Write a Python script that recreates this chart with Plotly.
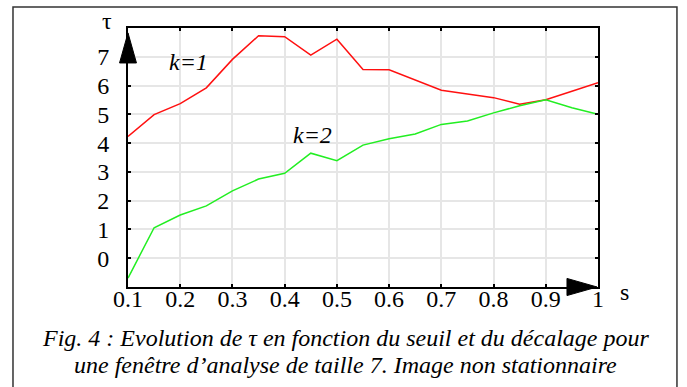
import plotly.graph_objects as go

# data
s_values = [0.10, 0.15, 0.20, 0.25, 0.30, 0.35, 0.40, 0.45, 0.50, 0.55,
            0.60, 0.65, 0.70, 0.75, 0.80, 0.85, 0.90, 0.95, 1.00]
tau_k1 = [4.23, 4.99, 5.37, 5.92, 6.91, 7.73, 7.70, 7.06, 7.61, 6.56,
          6.55, 6.20, 5.84, 5.71, 5.58, 5.35, 5.51, 5.80, 6.10]
tau_k2 = [-0.69, 1.06, 1.50, 1.82, 2.34, 2.75, 2.95, 3.65, 3.39, 3.93,
          4.15, 4.32, 4.65, 4.77, 5.05, 5.30, 5.51, 5.23, 5.00]
x_tick_vals = [0.1, 0.2, 0.3, 0.4, 0.5, 0.6, 0.7, 0.8, 0.9, 1.0]
x_tick_text = ["0.1", "0.2", "0.3", "0.4", "0.5", "0.6", "0.7", "0.8", "0.9", "1"]
y_tick_vals = [0, 1, 2, 3, 4, 5, 6, 7]
y_tick_text = ["0", "1", "2", "3", "4", "5", "6", "7"]

SERIF = "Liberation Serif"

fig = go.Figure()
fig.add_trace(go.Scatter(x=s_values, y=tau_k1, mode="lines",
                         line=dict(color="#ff1010", width=1.5), name="k=1"))
fig.add_trace(go.Scatter(x=s_values, y=tau_k2, mode="lines",
                         line=dict(color="#22ee22", width=1.5), name="k=2"))

axis_common = dict(showgrid=True, gridcolor="#e6e6e6", gridwidth=2,
                   showline=True, linecolor="black", linewidth=2,
                   mirror="allticks", ticks="inside", ticklen=3,
                   tickwidth=2, tickcolor="black", zeroline=False,
                   tickfont=dict(family=SERIF, size=24, color="black"))

fig.update_xaxes(range=[0.1, 1.0], tickvals=x_tick_vals, ticktext=x_tick_text,
                 ticklabelstandoff=-11, **axis_common)
fig.update_yaxes(range=[-1, 8], tickvals=y_tick_vals, ticktext=y_tick_text,
                 ticklabelstandoff=12, **axis_common)

shapes = [
    # outer frame
    dict(type="rect", xref="paper", yref="paper", x0=-0.2447, x1=1.168,
         y0=-0.40, y1=1.081, line=dict(color="#333333", width=1.5),
         layer="below"),
    # y axis arrow
    dict(type="path", xref="paper", yref="paper",
         path="M -0.018 0.865 L 0.018 0.865 L 0 0.981 Z",
         fillcolor="black", line=dict(color="black", width=1), layer="above"),
    # x axis arrow
    dict(type="path", xref="paper", yref="paper",
         path="M 0.934 -0.033 L 0.934 0.033 L 0.998 0 Z",
         fillcolor="black", line=dict(color="black", width=1), layer="above"),
]

def note(x, y, text, size, xref="paper", yref="paper"):
    return dict(x=x, y=y, xref=xref, yref=yref, text=text, showarrow=False,
                xanchor="center", yanchor="middle",
                font=dict(family=SERIF, size=size, color="black"))

annotations = [
    note(0.215, 6.82, "<i>k=1</i>", 24, "x", "y"),
    note(0.4534, 4.27, "<i>k=2</i>", 24, "x", "y"),
    note(-0.045, 1.027, "τ", 24),
    note(1.057, -0.019, "s", 24),
    note(0.462, -0.195,
         "<i>Fig. 4 : Evolution de τ en fonction du seuil et du décalage pour</i>", 24),
    note(0.462, -0.302,
         "<i>une fenêtre d’analyse de taille 7. Image non stationnaire</i>", 24),
]

fig.update_layout(width=687, height=387,
                  margin=dict(l=128, r=89, t=28, b=100),
                  paper_bgcolor="white", plot_bgcolor="white",
                  showlegend=False, shapes=shapes, annotations=annotations)

fig.write_html("out.html", config={"displayModeBar": False},
               post_script="document.body.style.margin='0';document.body.style.overflow='hidden';")
